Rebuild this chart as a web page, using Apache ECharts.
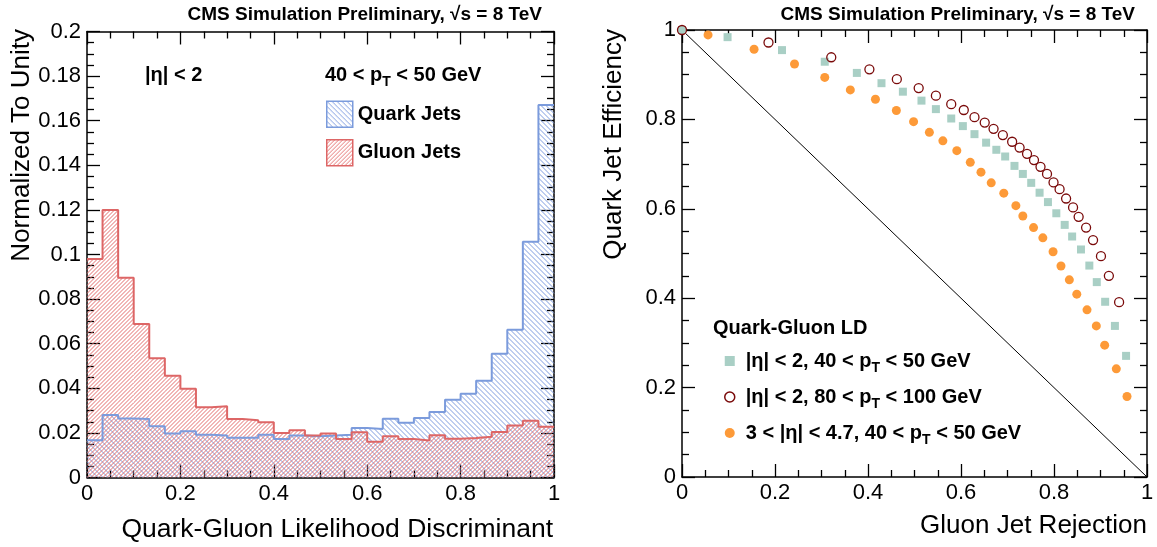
<!DOCTYPE html>
<html>
<head>
<meta charset="utf-8">
<script src="https://cdn.jsdelivr.net/npm/echarts@6/dist/echarts.min.js"></script>
<style>html,body{margin:0;padding:0;background:#fff}#c{width:1157px;height:547px}</style>
</head>
<body>
<div id="c"></div>
<script>
// ---------------- DATA ----------------
// Left panel: histogram bin edges (30 bins on [0,1])
const binEdges = [0, 0.0333, 0.0667, 0.1, 0.1333, 0.1667, 0.2, 0.2333, 0.2667, 0.3,
  0.3333, 0.3667, 0.4, 0.4333, 0.4667, 0.5, 0.5333, 0.5667, 0.6, 0.6333,
  0.6667, 0.7, 0.7333, 0.7667, 0.8, 0.8333, 0.8667, 0.9, 0.9333, 0.9667, 1];
const quarkJets = [0.0167, 0.028, 0.0265, 0.0262, 0.023, 0.0197, 0.0207, 0.0192, 0.0188, 0.0178,
  0.0178, 0.0192, 0.0173, 0.0188, 0.0185, 0.0188, 0.0192, 0.0222, 0.0218, 0.0263,
  0.0245, 0.0267, 0.0294, 0.0349, 0.0376, 0.0434, 0.0555, 0.0662, 0.1057, 0.167];
const gluonJets = [0.098, 0.120, 0.0896, 0.0688, 0.0535, 0.0456, 0.0398, 0.0315, 0.0319, 0.0262,
  0.0257, 0.0248, 0.020, 0.0212, 0.0188, 0.0197, 0.0173, 0.0203, 0.016, 0.0185,
  0.0173, 0.0166, 0.0189, 0.0174, 0.0177, 0.0183, 0.0204, 0.0233, 0.0255, 0.0228];
const leftYTicks = [0, 0.02, 0.04, 0.06, 0.08, 0.1, 0.12, 0.14, 0.16, 0.18, 0.2];
const xTicks = [0, 0.2, 0.4, 0.6, 0.8, 1];

// Right panel: ROC curves (gluon rejection, quark efficiency)
const centralLowPtRej = [0, 0.098, 0.215, 0.307, 0.376, 0.429, 0.475, 0.515, 0.546, 0.579,
  0.604, 0.629, 0.654, 0.676, 0.695, 0.715, 0.733, 0.751, 0.769, 0.787,
  0.805, 0.823, 0.839, 0.858, 0.876, 0.892, 0.910, 0.931, 0.955];
const centralLowPtEff = [1, 0.984, 0.955, 0.929, 0.904, 0.881, 0.862, 0.842, 0.823, 0.802,
  0.785, 0.767, 0.748, 0.732, 0.717, 0.696, 0.678, 0.658, 0.636, 0.615,
  0.590, 0.564, 0.538, 0.509, 0.473, 0.436, 0.392, 0.338, 0.271];
const centralHighPtRej = [0, 0.186, 0.321, 0.403, 0.462, 0.509, 0.546, 0.579, 0.606, 0.629,
  0.651, 0.670, 0.690, 0.710, 0.726, 0.742, 0.757, 0.771, 0.785, 0.799,
  0.812, 0.826, 0.841, 0.853, 0.869, 0.884, 0.901, 0.918, 0.940];
const centralHighPtEff = [1, 0.972, 0.939, 0.912, 0.890, 0.870, 0.853, 0.834, 0.821, 0.805,
  0.793, 0.779, 0.765, 0.750, 0.737, 0.723, 0.709, 0.694, 0.678, 0.659,
  0.644, 0.623, 0.603, 0.582, 0.558, 0.530, 0.494, 0.450, 0.391];
const forwardLowPtRej = [0.056, 0.155, 0.242, 0.307, 0.362, 0.416, 0.461, 0.498, 0.532, 0.561,
  0.591, 0.620, 0.643, 0.665, 0.692, 0.718, 0.733, 0.756, 0.776, 0.798,
  0.815, 0.833, 0.849, 0.871, 0.891, 0.909, 0.934, 0.957];
const forwardLowPtEff = [0.989, 0.957, 0.924, 0.894, 0.866, 0.845, 0.820, 0.795, 0.771, 0.752,
  0.730, 0.704, 0.682, 0.658, 0.635, 0.607, 0.584, 0.558, 0.535, 0.504,
  0.472, 0.441, 0.409, 0.374, 0.338, 0.295, 0.242, 0.180];
const diagonalRej = [0, 1];
const diagonalEff = [1, 0];
const rightTicks = [0, 0.2, 0.4, 0.6, 0.8, 1];

// ---------------- BUILD ----------------
const FONT = '"Liberation Sans", Arial, Helvetica, sans-serif';
const BLUE = '#7b9bdc';
const RED = '#dd6666';
const BLUE_HATCH = '#7f9de0';
const RED_HATCH = '#e46e6e';

function hatch(color, p, dir) {
  const c = document.createElement('canvas');
  c.width = p; c.height = p;
  const g = c.getContext('2d');
  g.strokeStyle = color; g.lineWidth = 1;
  g.beginPath();
  for (const k of [-p, 0, p]) {
    if (dir === '/') { g.moveTo(k, p); g.lineTo(k + p, 0); }
    else { g.moveTo(k, 0); g.lineTo(k + p, p); }
  }
  g.stroke();
  return { image: c, repeat: 'repeat' };
}
const bluePatLegend = hatch(BLUE_HATCH, 5, '\\');
const redPatLegend = hatch(RED_HATCH, 4, '/');

// diagonal hatch lines clipped to a pixel rectangle, anchored to the page grid
function hatchPath(x0, y0, x1, y1, p, dir) {
  let d = '';
  const off = 0.5;
  if (dir === '/') {          // x + y = c
    for (let c = Math.ceil((x0 + y0) / p) * p + off; c <= x1 + y1; c += p) {
      const xa = Math.max(x0, c - y1), xb = Math.min(x1, c - y0);
      if (xb > xa) d += 'M' + xa.toFixed(2) + ' ' + (c - xa).toFixed(2) + 'L' + xb.toFixed(2) + ' ' + (c - xb).toFixed(2);
    }
  } else {                    // x - y = c
    for (let c = Math.ceil((x0 - y1) / p) * p + off; c <= x1 - y0; c += p) {
      const xa = Math.max(x0, y0 + c), xb = Math.min(x1, y1 + c);
      if (xb > xa) d += 'M' + xa.toFixed(2) + ' ' + (xa - c).toFixed(2) + 'L' + xb.toFixed(2) + ' ' + (xb - c).toFixed(2);
    }
  }
  return d || 'M0 0';
}

function bins(vals) { return vals.map((v, i) => [binEdges[i], binEdges[i + 1], v]); }
function steps(vals) {
  const d = vals.map((v, i) => [binEdges[i], v]);
  d.push([binEdges[vals.length], vals[vals.length - 1]]);
  return d;
}
function pairs(xs, ys) { return xs.map((x, i) => [x, ys[i]]); }
function hatchRender(color, p, dir) {
  return function (params, api) {
    const a = api.coord([api.value(0), api.value(2)]);
    const b = api.coord([api.value(1), 0]);
    return {
      type: 'path',
      shape: { pathData: hatchPath(a[0], a[1], b[0], b[1], p, dir) },
      style: { fill: null, stroke: color, lineWidth: 1 }
    };
  };
}

const tickStyle = { color: '#000', width: 1.3 };
function xAx(grid, pos, labels) {
  return {
    type: 'value', gridIndex: grid, position: pos, min: 0, max: 1, interval: 0.2,
    axisLine: { show: true, onZero: false, lineStyle: { color: '#000', width: 1.5 } },
    axisTick: { show: true, inside: true, length: 13, lineStyle: tickStyle },
    minorTick: { show: true, splitNumber: 4, length: 7, lineStyle: tickStyle },
    splitLine: { show: false },
    axisLabel: { show: labels, margin: 5, fontSize: 22, color: '#000', fontFamily: FONT,
      formatter: v => String(+v.toFixed(2)) }
  };
}
function yAx(grid, pos, labels, max, interval) {
  return {
    type: 'value', gridIndex: grid, position: pos, min: 0, max: max, interval: interval,
    axisLine: { show: true, onZero: false, lineStyle: { color: '#000', width: 1.5 } },
    axisTick: { show: true, inside: true, length: 13, lineStyle: tickStyle },
    minorTick: { show: true, splitNumber: 4, length: 7, lineStyle: tickStyle },
    splitLine: { show: false },
    axisLabel: { show: labels, margin: 6, fontSize: 22, color: '#000', fontFamily: FONT,
      formatter: v => String(+v.toFixed(2)) }
  };
}

function txt(x, y, text, opt) {
  opt = opt || {};
  return {
    type: 'text', x: x, y: y, rotation: opt.rotation || 0, silent: true, z: 100,
    style: Object.assign({
      text: text, fill: '#000', fontFamily: FONT, fontSize: opt.size || 20,
      fontWeight: opt.bold ? 'bold' : 'normal',
      align: opt.align || 'left', textAlign: opt.align || 'left',
      verticalAlign: 'middle', textVerticalAlign: 'middle'
    }, opt.rich ? { rich: opt.rich } : {})
  };
}
const subRich = {
  n: { fontSize: 20, fontWeight: 'bold', lineHeight: 28, fontFamily: FONT, color: '#000' },
  s: { fontSize: 14, fontWeight: 'bold', lineHeight: 12, verticalAlign: 'bottom', fontFamily: FONT, color: '#000' }
};

const NAME_SQ = 'central, 40-50 GeV';
const NAME_OC = 'central, 80-100 GeV';
const NAME_OR = 'forward, 40-50 GeV';
const legendLabels = {};
legendLabels[NAME_SQ] = '{n||η| < 2, 40 < p}{s|T}{n| < 50 GeV}';
legendLabels[NAME_OC] = '{n||η| < 2, 80 < p}{s|T}{n| < 100 GeV}';
legendLabels[NAME_OR] = '{n|3 < |η| < 4.7, 40 < p}{s|T}{n| < 50 GeV}';

const option = {
  animation: false,
  backgroundColor: '#fff',
  grid: [
    { left: 87, top: 31.5, width: 467, height: 446, containLabel: false },
    { left: 682, top: 30, width: 465, height: 447, containLabel: false }
  ],
  xAxis: [xAx(0, 'bottom', true), xAx(0, 'top', false), xAx(1, 'bottom', true), xAx(1, 'top', false)],
  yAxis: [yAx(0, 'left', true, 0.2, 0.02), yAx(0, 'right', false, 0.2, 0.02),
          yAx(1, 'left', true, 1, 0.2), yAx(1, 'right', false, 1, 0.2)],
  legend: [
    {
      orient: 'vertical', left: 326, top: 100.5, itemWidth: 26, itemHeight: 26, itemGap: 11,
      selectedMode: false, padding: 0,
      textStyle: { fontSize: 20, fontWeight: 'bold', color: '#000', fontFamily: FONT },
      data: [
        { name: 'Quark Jets', icon: 'rect', itemStyle: { color: bluePatLegend, borderColor: BLUE, borderWidth: 1.5 } },
        { name: 'Gluon Jets', icon: 'rect', itemStyle: { color: redPatLegend, borderColor: RED, borderWidth: 1.5 } }
      ]
    },
    {
      orient: 'vertical', left: 724, top: 351, itemWidth: 10, itemHeight: 10, itemGap: 12,
      selectedMode: false, padding: 0,
      formatter: n => legendLabels[n],
      textStyle: { fontSize: 20, fontWeight: 'bold', color: '#000', fontFamily: FONT, rich: subRich,
        padding: [0, 0, 0, 6] },
      data: [NAME_SQ, { name: NAME_OC, itemStyle: { borderWidth: 1.5 } }, NAME_OR]
    }
  ],
  graphic: [
    txt(542, 15, 'CMS Simulation Preliminary, √s = 8 TeV', { size: 19, bold: true, align: 'right' }),
    txt(1135, 15, 'CMS Simulation Preliminary, √s = 8 TeV', { size: 19, bold: true, align: 'right' }),
    txt(553, 530, 'Quark-Gluon Likelihood Discriminant', { size: 26.5, align: 'right' }),
    txt(1147, 526, 'Gluon Jet Rejection', { size: 26, align: 'right' }),
    txt(22, 29, 'Normalized To Unity', { size: 26, align: 'right', rotation: Math.PI / 2 }),
    txt(614, 29, 'Quark Jet Efficiency', { size: 26, align: 'right', rotation: Math.PI / 2 }),
    txt(145, 75, '|η| < 2', { size: 20, bold: true }),
    txt(325, 75, '{n|40 < p}{s|T}{n| < 50 GeV}', { size: 20, bold: true, rich: subRich }),
    txt(713, 328, 'Quark-Gluon LD', { size: 20, bold: true })
  ],
  series: [
    {
      type: 'custom', name: 'Quark Jets', xAxisIndex: 0, yAxisIndex: 0, z: 2,
      data: bins(quarkJets), encode: { x: [0, 1], y: 2 },
      renderItem: hatchRender(BLUE_HATCH, 5, '\\'), itemStyle: { color: BLUE }, silent: true
    },
    {
      type: 'custom', name: 'Gluon Jets', xAxisIndex: 0, yAxisIndex: 0, z: 2,
      data: bins(gluonJets), encode: { x: [0, 1], y: 2 },
      renderItem: hatchRender(RED_HATCH, 4, '/'), itemStyle: { color: RED }, silent: true
    },
    {
      type: 'line', name: 'Quark Jets outline', xAxisIndex: 0, yAxisIndex: 0, step: 'end',
      data: steps(quarkJets), symbol: 'none', showSymbol: false, z: 3, silent: true,
      lineStyle: { color: BLUE, width: 2 }, itemStyle: { color: BLUE }
    },
    {
      type: 'line', name: 'Gluon Jets outline', xAxisIndex: 0, yAxisIndex: 0, step: 'end',
      data: steps(gluonJets), symbol: 'none', showSymbol: false, z: 4, silent: true,
      lineStyle: { color: RED, width: 2 }, itemStyle: { color: RED }
    },
    {
      type: 'line', name: 'diagonal', xAxisIndex: 2, yAxisIndex: 2,
      data: pairs(diagonalRej, diagonalEff), symbol: 'none', silent: true, z: 1,
      lineStyle: { color: '#000', width: 1 }
    },
    {
      type: 'scatter', name: NAME_SQ, xAxisIndex: 2, yAxisIndex: 2,
      data: pairs(centralLowPtRej, centralLowPtEff), symbol: 'rect', symbolSize: 8, z: 3,
      itemStyle: { color: '#a9cfc5', opacity: 1 }
    },
    {
      type: 'scatter', name: NAME_OC, xAxisIndex: 2, yAxisIndex: 2,
      data: pairs(centralHighPtRej, centralHighPtEff), symbol: 'circle', symbolSize: 9, z: 4,
      itemStyle: { color: 'rgba(255,255,255,0)', borderColor: '#7a0a0a', borderWidth: 1.3, opacity: 1 }
    },
    {
      type: 'scatter', name: NAME_OR, xAxisIndex: 2, yAxisIndex: 2,
      data: pairs(forwardLowPtRej, forwardLowPtEff), symbol: 'circle', symbolSize: 9, z: 4,
      itemStyle: { color: '#fd9a38', opacity: 1 }
    }
  ]
};

const chart = echarts.init(document.getElementById('c'), null, { renderer: 'canvas' });
chart.setOption(option);
</script>
</body>
</html>
